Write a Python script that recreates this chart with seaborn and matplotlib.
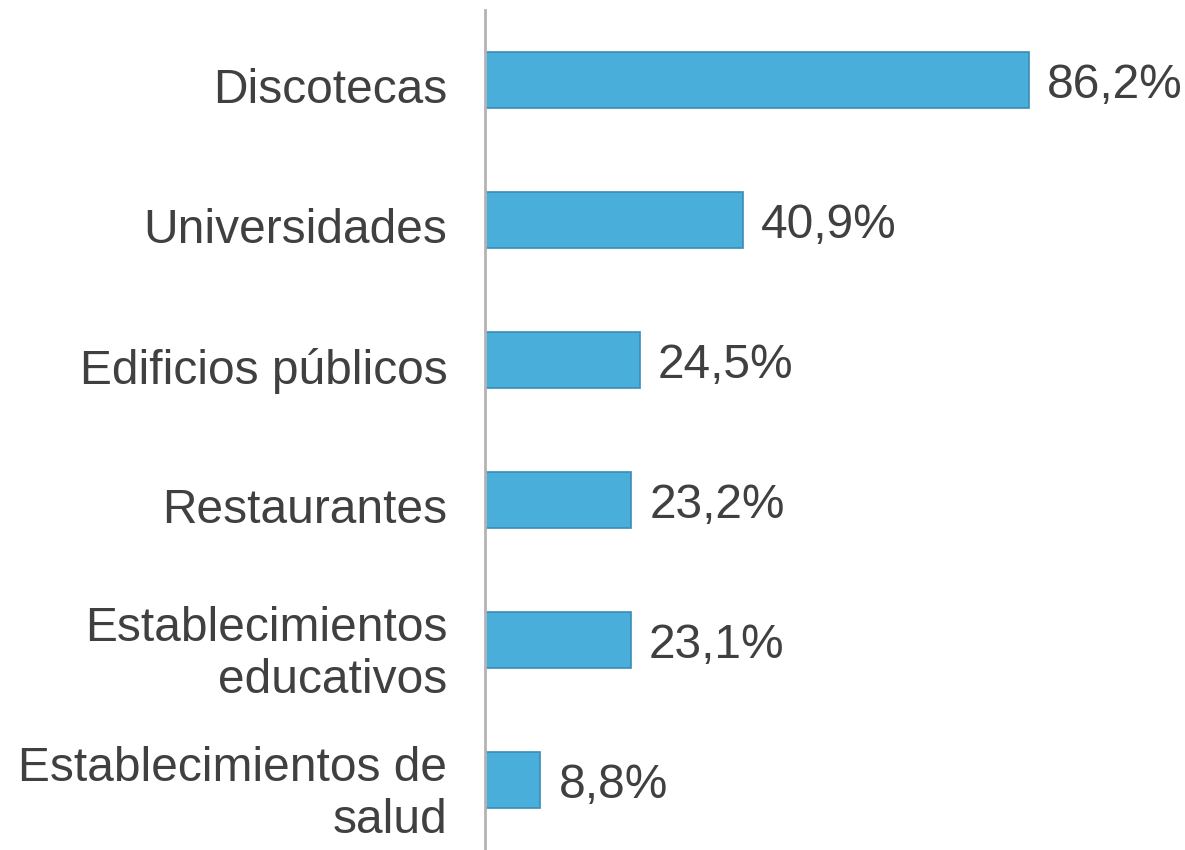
import seaborn as sns
import matplotlib.pyplot as plt
import matplotlib.transforms as mtransforms

# Datos del gráfico
lugares = ['Discotecas', 'Universidades', 'Edificios públicos', 'Restaurantes',
           'Establecimientos\neducativos', 'Establecimientos de\nsalud']
porcentajes = [86.2, 40.9, 24.5, 23.2, 23.1, 8.8]
etiquetas = ['86,2%', '40,9%', '24,5%', '23,2%', '23,1%', '8,8%']

sns.set_style('white')
plt.rcParams['font.family'] = ['Liberation Sans', 'DejaVu Sans']

fig = plt.figure(figsize=(11.85, 8.5), dpi=100)
ax = fig.add_axes([485 / 1185, 0.0, 1 - 485 / 1185, 1 - 10 / 850])

sns.barplot(x=porcentajes, y=lugares, orient='h', color='#4aaedb', saturation=1,
            width=0.4, edgecolor='#3b8db5', linewidth=1.2, ax=ax)

# Etiquetas de valor
for barra, txt in zip(ax.patches, etiquetas):
    ax.annotate(txt, (barra.get_width(), barra.get_y() + barra.get_height() / 2),
                xytext=(13, -4), textcoords='offset points', va='center', ha='left',
                fontsize=34.5, color='#404040')

ax.set_xlim(0, 111)
ax.set_ylim(5.5, -0.5)
ax.set_xlabel('')
ax.set_ylabel('')
ax.set_xticks([])
ax.tick_params(axis='y', length=0, pad=27, labelsize=34.5, labelcolor='#404040')

# bajar un poco las etiquetas del eje
desplaz = mtransforms.ScaledTranslation(0, -4 / 72, fig.dpi_scale_trans)
for lab in ax.get_yticklabels():
    lab.set_transform(lab.get_transform() + desplaz)

for lado in ['top', 'right', 'bottom']:
    ax.spines[lado].set_visible(False)
ax.spines['left'].set_color('#b3b3b3')
ax.spines['left'].set_linewidth(2)

plt.savefig('out.png', dpi=100)
